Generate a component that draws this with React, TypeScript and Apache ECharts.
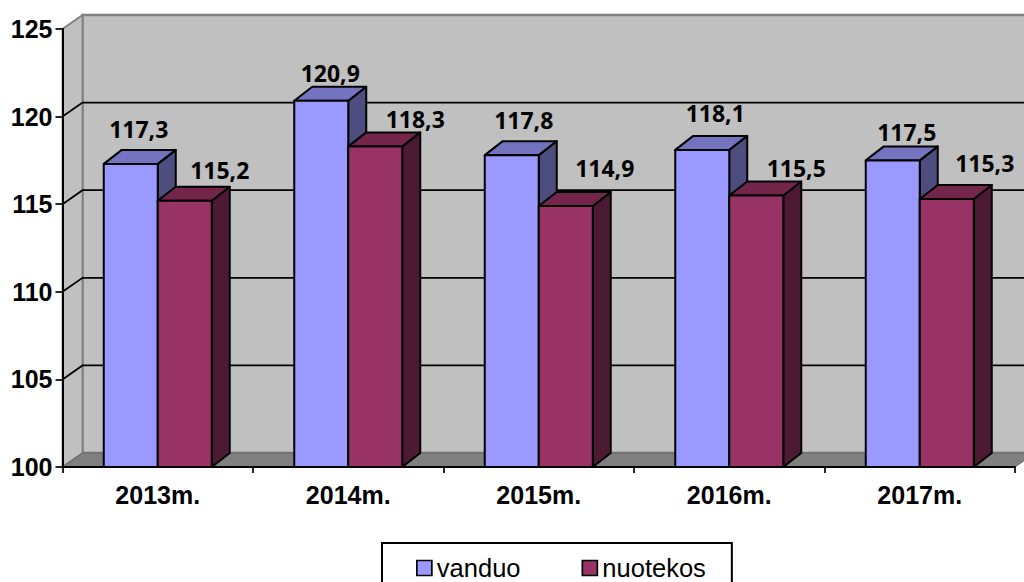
import React, { useEffect, useRef } from "react";
import * as echarts from "echarts";

const categories = ["2013m.", "2014m.", "2015m.", "2016m.", "2017m."];
const vanduo = [117.3, 120.9, 117.8, 118.1, 117.5];
const nuotekos = [115.2, 118.3, 114.9, 115.5, 115.3];
const yTicks = [100, 105, 110, 115, 120, 125];

// hand-placed label nudges from the top-front corner of each bar's centre [dx, dy]
const vanduoNudge = [[8, -35], [9, -28], [12, -35], [13, -37], [14, -28]];
const nuotekosNudge = [[35, -31], [40, -27], [39, -38], [40, -27], [38, -36]];

const WALL_DX = 20;
const WALL_DY = -14;
const BAR_DX = 18;
const BAR_DY = -14;
const BAR_W = 54;

function wallRenderer(params: any, api: any) {
  const cs = params.coordSys;
  const left = cs.x;
  const right = cs.x + cs.width;
  const y0 = api.coord([0, 100])[1];
  const y1 = api.coord([0, 125])[1];
  const children: any[] = [];
  // back wall
  children.push({
    type: "polygon",
    shape: { points: [[left + WALL_DX, y1 + WALL_DY], [right + WALL_DX, y1 + WALL_DY], [right + WALL_DX, y0 + WALL_DY], [left + WALL_DX, y0 + WALL_DY]] },
    style: { fill: "#C0C0C0", stroke: "#808080", lineWidth: 2.4 },
  });
  // side wall
  children.push({
    type: "polygon",
    shape: { points: [[left, y1], [left + WALL_DX, y1 + WALL_DY], [left + WALL_DX, y0 + WALL_DY], [left, y0]] },
    style: { fill: "#C0C0C0", stroke: "#808080", lineWidth: 1.8 },
  });
  // floor
  children.push({
    type: "polygon",
    shape: { points: [[left, y0], [left + WALL_DX, y0 + WALL_DY], [right + WALL_DX, y0 + WALL_DY], [right, y0]] },
    style: { fill: "#808080", stroke: "#666666", lineWidth: 1 },
  });
  yTicks.forEach((t) => {
    if (t === 125 || t === 100) return;
    const y = api.coord([0, t])[1];
    children.push({
      type: "polyline",
      shape: { points: [[left, y], [left + WALL_DX, y + WALL_DY], [right + WALL_DX, y + WALL_DY]] },
      style: { fill: "none", stroke: "#000000", lineWidth: 1.8 },
    });
  });
  return { type: "group", children };
}

function barRenderer(side: number, front: string, top: string, sideFill: string, nudges: number[][]) {
  return (params: any, api: any) => {
    const idx = api.value(0);
    const val = api.value(1);
    const [cx, yTop] = api.coord([idx, val]);
    const yBase = api.coord([idx, 100])[1];
    const x0 = side < 0 ? cx - BAR_W : cx;
    const x1 = x0 + BAR_W;
    const stroke = { stroke: "#000000", lineWidth: 2, lineJoin: "round" };
    const n = nudges[params.dataIndex];
    const labelX = (x0 + x1) / 2 + n[0];
    const labelY = yTop + n[1];
    return {
      type: "group",
      children: [
        { type: "polygon", shape: { points: [[x1, yTop], [x1 + BAR_DX, yTop + BAR_DY], [x1 + BAR_DX, yBase + BAR_DY], [x1, yBase]] }, style: { fill: sideFill, ...stroke } },
        { type: "polygon", shape: { points: [[x0, yTop], [x0 + BAR_DX, yTop + BAR_DY], [x1 + BAR_DX, yTop + BAR_DY], [x1, yTop]] }, style: { fill: top, ...stroke } },
        { type: "polygon", shape: { points: [[x0, yTop], [x1, yTop], [x1, yBase], [x0, yBase]] }, style: { fill: front, ...stroke } },
        {
          type: "text",
          style: {
            text: val.toFixed(1).replace(".", ","),
            x: labelX,
            y: labelY,
            fill: "#000000",
            fontFamily: "Noto Sans",
            fontWeight: "bold",
            fontSize: 23,
            align: "center",
            verticalAlign: "middle",
            textAlign: "center",
            textVerticalAlign: "middle",
          },
        },
      ],
    };
  };
}

export default function App() {
  const ref = useRef<HTMLDivElement>(null);
  useEffect(() => {
    document.body.style.margin = "0";
    const chart = echarts.init(ref.current!, undefined, { renderer: "svg" });
    chart.setOption({
      animation: false,
      backgroundColor: "#FFFFFF",
      grid: { left: 62.5, right: 9, top: 29, bottom: 115, containLabel: false },
      legend: {
        left: 382,
        top: 543,
        padding: [12, 26, 30, 34],
        itemWidth: 15,
        itemHeight: 15,
        itemGap: 61,
        borderColor: "#000000",
        borderWidth: 2,
        backgroundColor: "#FFFFFF",
        icon: "rect",
        textStyle: { fontFamily: "Liberation Sans", fontSize: 25.5, color: "#000000" },
        data: [
          { name: "vanduo", itemStyle: { color: "#9999FF", borderColor: "#000000", borderWidth: 1.7 } },
          { name: "nuotekos", itemStyle: { color: "#993366", borderColor: "#000000", borderWidth: 1.7 } },
        ],
      },
      xAxis: {
        type: "category",
        data: categories,
        z: 4,
        axisLine: { lineStyle: { color: "#000000", width: 2 } },
        axisTick: { show: true, length: 6, alignWithLabel: false, lineStyle: { color: "#000000", width: 1.7 } },
        axisLabel: { fontFamily: "Liberation Sans", fontWeight: "bold", fontSize: 25, color: "#000000", margin: 15 },
      },
      yAxis: {
        type: "value",
        min: 100,
        max: 125,
        interval: 5,
        z: 4,
        splitLine: { show: false },
        axisLine: { show: true, lineStyle: { color: "#000000", width: 2 } },
        axisTick: { show: true, length: 7, lineStyle: { color: "#000000", width: 1.7 } },
        axisLabel: { fontFamily: "Liberation Sans", fontWeight: "bold", fontSize: 25, color: "#000000", margin: 10 },
      },
      series: [
        { type: "custom", name: "walls", z: 1, silent: true, data: [[0, 100]], renderItem: wallRenderer },
        {
          type: "custom", name: "vanduo", z: 5, silent: true,
          itemStyle: { color: "#9999FF" },
          data: vanduo.map((v, i) => [i, v]),
          renderItem: barRenderer(-1, "#9999FF", "#7373BF", "#4D4D80", vanduoNudge),
        },
        {
          type: "custom", name: "nuotekos", z: 6, silent: true,
          itemStyle: { color: "#993366" },
          data: nuotekos.map((v, i) => [i, v]),
          renderItem: barRenderer(1, "#993366", "#732649", "#4D1A33", nuotekosNudge),
        },
      ],
    });
    return () => chart.dispose();
  }, []);
  return <div ref={ref} style={{ position: "fixed", left: 0, top: 0, width: 1024, height: 582 }} />;
}
